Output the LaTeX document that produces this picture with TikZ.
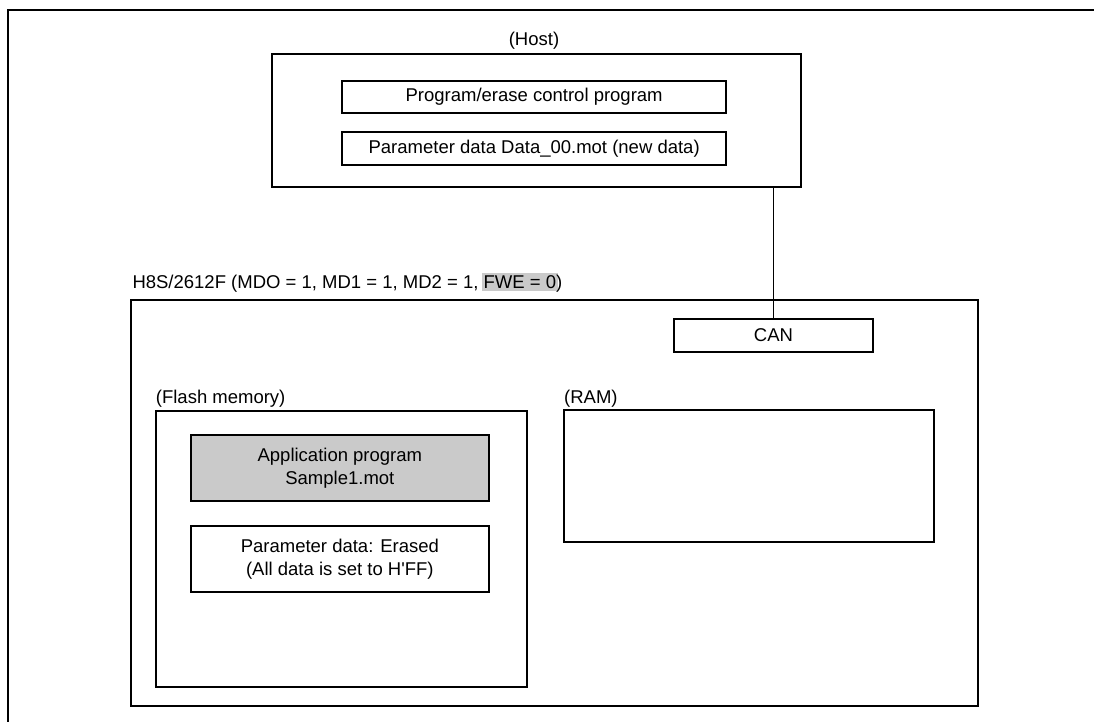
\documentclass[tikz,border=0pt]{standalone}
\usepackage{fontspec}
\setmainfont{Liberation Sans}[Ligatures=TeXOff]
\definecolor{fillgray}{HTML}{CACACA}
\begin{document}
\begin{tikzpicture}[x=1pt,y=-1pt,
  box/.style={draw=black, line width=2pt, inner sep=0pt, outer sep=0pt, align=center,
              font=\fontsize{18.5}{23.3}\selectfont},
  lbl/.style={inner sep=0pt, font=\fontsize{18.5}{23.3}\selectfont},
  link/.style={draw=black, line width=1.2pt}]
\useasboundingbox (0,0) rectangle (1094,721);
% outer frame (only top and left edges visible)
\draw[line width=2pt] (7.7,740) -- (7.7,10) -- (1110,10);

% Host
\node[lbl, anchor=base] (hostlbl) at (534,45) {(Host)};
\node[box, minimum width=528.4pt, minimum height=132.7pt] (host) at (536.5,120.35) {};
\node[box, minimum width=383.7pt, minimum height=32.3pt] (pec) at (534.15,97.15) {Program/erase control program};
\node[box, minimum width=383.7pt, minimum height=33.3pt] (pdata) at (534.15,148.35) {Parameter data Data\_00.mot (new data)};

% H8S
\node[lbl, anchor=base west] (h8slbl) at (132.3,288)
  {H8S/2612F (MDO = 1, MD1 = 1, MD2 = 1, \setlength{\fboxsep}{0pt}\hspace{-1.5pt}\colorbox{fillgray}{\rule[-2.7pt]{0pt}{17.7pt}\hspace{1.5pt}FWE = 0\hspace{1.5pt}}\hspace{-1.5pt})};
\node[box, minimum width=847pt, minimum height=406.3pt] (h8s) at (554.2,503.15) {};
\node[box, minimum width=199pt, minimum height=33pt] (can) at (773.5,335.5) {CAN};

% Flash memory
\node[lbl, anchor=base west] (flashlbl) at (155.7,403) {(Flash memory)};
\node[box, minimum width=370.7pt, minimum height=276pt] (flash) at (341.35,548.7) {};
\node[box, fill=fillgray, minimum width=298.3pt, minimum height=66pt] (app) at (339.85,468) {Application program\\Sample1.mot};
\node[box, minimum width=298.3pt, minimum height=66.6pt] (param) at (339.85,559) {Parameter data: Erased\\(All data is set to H'FF)};

% RAM
\node[lbl, anchor=base west] (ramlbl) at (564,403) {(RAM)};
\node[box, minimum width=370pt, minimum height=131.7pt] (ram) at (749,475.85) {};

% connector
\draw[link] (can.north) -- (can.north |- host.south);
\end{tikzpicture}
\end{document}
